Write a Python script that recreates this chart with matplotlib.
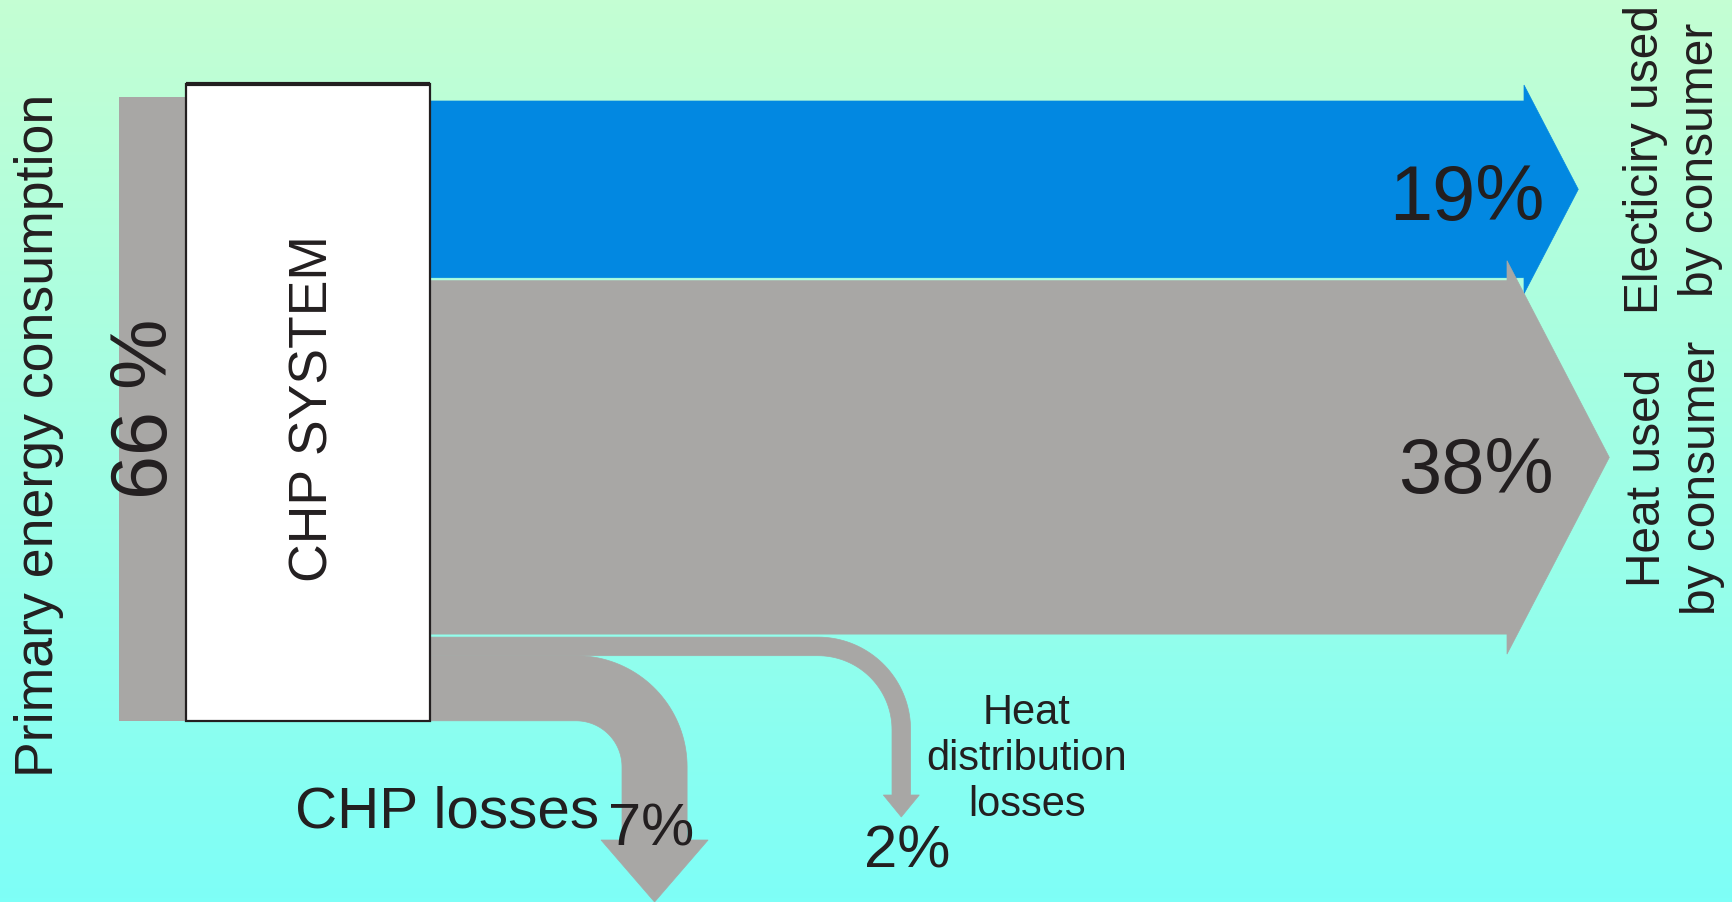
#!/usr/bin/env python3
"""CHP system energy flow diagram (Sankey-style arrows)."""
import numpy as np
import matplotlib
matplotlib.use("Agg")
import matplotlib.pyplot as plt
from matplotlib.patches import Polygon, Rectangle
from matplotlib import font_manager
from matplotlib.colors import to_rgb

# flow data (percent of fuel input)
input_label = "Primary energy consumption"
input_value = 66
system_label = "CHP SYSTEM"
out_labels = ["Electiciry used\nby consumer", "Heat used\nby consumer"]
out_values = [19, 38]
loss_labels = ["CHP losses", "Heat\ndistribution\nlosses"]
loss_values = [7, 2]

W, H = 1732, 902
PX = 9.3      # pixels per percent of flow
GAP = 3
TOP = 101

GRAY = "#a8a7a5"
BLUE = "#0288e1"
INK = "#231f20"
BG_TOP = "#c4fed3"
BG_BOT = "#7efff7"

names = {f.name for f in font_manager.fontManager.ttflist}
if "Liberation Sans Narrow" in names:
    NARROW, NSCALE = "Liberation Sans Narrow", 1.19
else:
    NARROW, NSCALE = "Liberation Sans", 1.0
REG = "Liberation Sans"


def straight_arrow(ax, x0, x1, y_top, y_bot, ext, color):
    mid = (y_top + y_bot) / 2
    half = (y_bot - y_top) / 2 + ext
    tip = x1 + 0.52 * half
    pts = [(x0, y_top), (x1, y_top), (x1, mid - half), (tip, mid),
           (x1, mid + half), (x1, y_bot), (x0, y_bot)]
    ax.add_patch(Polygon(pts, closed=True, fc=color, ec=color, lw=0.5, zorder=2))
    return mid


def bend_arrow(ax, x0, cx, y_top, y_bot, r_in, shaft_end, head_len, head_ext, color):
    # horizontal band that turns downward around (cx, cy)
    cy = y_bot + r_in
    r_out = cy - y_top
    t = np.linspace(-np.pi / 2, 0, 40)
    outer = np.column_stack([cx + r_out * np.cos(t), cy + r_out * np.sin(t)])
    inner = np.column_stack([cx + r_in * np.cos(t), cy + r_in * np.sin(t)])[::-1]
    xl, xr = cx + r_in, cx + r_out
    xm = (xl + xr) / 2
    half = (xr - xl) / 2 + head_ext
    pts = [(x0, y_top)] + outer.tolist() + [
        (xr, shaft_end), (xm + half, shaft_end), (xm, shaft_end + head_len),
        (xm - half, shaft_end), (xl, shaft_end)] + inner.tolist() + [(x0, y_bot)]
    ax.add_patch(Polygon(pts, closed=True, fc=color, ec=color, lw=0.5, zorder=2))
    return xm


fig = plt.figure(figsize=(W / 100, H / 100), dpi=100)
ax = fig.add_axes([0, 0, 1, 1])
ax.set_xlim(0, W)
ax.set_ylim(H, 0)
ax.axis("off")

# background gradient
c0, c1 = np.array(to_rgb(BG_TOP)), np.array(to_rgb(BG_BOT))
f = np.linspace(0, 1, 256)[:, None]
grad = (c0 * (1 - f) + c1 * f)[:, None, :]
ax.imshow(grad, extent=[0, W, H, 0], aspect="auto", zorder=0)

# stack the outgoing flows on the right side of the box
e_top = TOP
e_bot = e_top + out_values[0] * PX
h_top = e_bot + GAP
h_bot = h_top + out_values[1] * PX
d_top = h_bot + GAP
d_bot = d_top + loss_values[1] * PX
l_top = d_bot
l_bot = l_top + loss_values[0] * PX

box_x0, box_x1 = 186, 430

# input bar behind the box
in_h = input_value * PX + 2 * GAP
ax.add_patch(Rectangle((119, l_bot - in_h - 4), 80, in_h + 4, fc=GRAY, ec="none", zorder=1))

e_mid = straight_arrow(ax, box_x1, 1524, e_top, e_bot, 16, BLUE)
h_mid = straight_arrow(ax, box_x1, 1507, h_top, h_bot, 20, GRAY)
d_x = bend_arrow(ax, box_x1, 818, d_top, d_bot, 74, 795, 22, 8.7, GRAY)
l_x = bend_arrow(ax, box_x1 - 2, 576, l_top, l_bot, 46, 840, 62, 21, GRAY)

# CHP box
ax.add_patch(Rectangle((box_x0, 84), box_x1 - box_x0, l_bot - 84,
                       fc="white", ec=INK, lw=1.6, zorder=3))
ax.plot([box_x0, box_x1], [84, 84], color=INK, lw=3, solid_capstyle="butt", zorder=4)

# labels
ax.text(39, 435, input_label, rotation=90, ha="center", va="center",
        family=NARROW, fontsize=38.6 * NSCALE, color=INK, zorder=5)
ax.text(146, 409, f"{input_value} %", rotation=90, ha="center", va="center",
        family=NARROW, fontsize=57 * NSCALE, color=INK, zorder=5)
ax.text((box_x0 + box_x1) / 2 + 5, 409, system_label, rotation=90, ha="center",
        va="center", family=NARROW, fontsize=38.5 * NSCALE, color=INK, zorder=5)

ax.text(1467, e_mid + 10, f"{out_values[0]}%", ha="center", va="center",
        family=REG, fontsize=56, color=INK, zorder=5)
ax.text(1476, h_mid + 15, f"{out_values[1]}%", ha="center", va="center",
        family=REG, fontsize=56, color=INK, zorder=5)

ax.text(1673, 160, out_labels[0], rotation=90, ha="center", va="center",
        multialignment="center", linespacing=1.3,
        family=NARROW, fontsize=34.5 * NSCALE, color=INK, zorder=5)
ax.text(1675, 478, out_labels[1], rotation=90, ha="center", va="center",
        multialignment="center", linespacing=1.3,
        family=NARROW, fontsize=34.5 * NSCALE, color=INK, zorder=5)

ax.text(447, 828, loss_labels[0], ha="center", va="baseline",
        family=REG, fontsize=42, color=INK, zorder=5)
ax.text(l_x - 3, 845, f"{loss_values[0]}%", ha="center", va="baseline",
        family=REG, fontsize=43, color=INK, zorder=5)
ax.text(1027, 759, loss_labels[1], ha="center", va="center",
        multialignment="center", linespacing=1.2,
        family=REG, fontsize=30, color=INK, zorder=5)
ax.text(d_x + 6, 867, f"{loss_values[1]}%", ha="center", va="baseline",
        family=REG, fontsize=43, color=INK, zorder=5)

fig.savefig("out.png", dpi=100)
plt.close(fig)
print("Saved: out.png")
